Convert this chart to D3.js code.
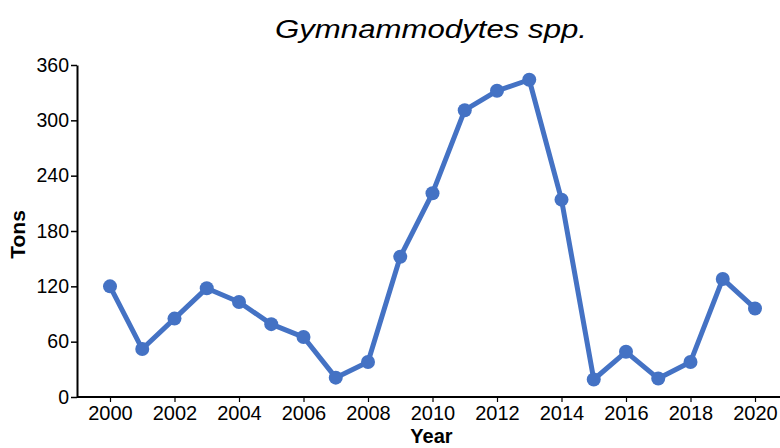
<!DOCTYPE html>
<html>
<head>
<meta charset="utf-8">
<script src="https://cdn.jsdelivr.net/npm/d3@7"></script>
<style>
  body { margin: 0; background: #fff; }
  svg { display: block; font-family: "Liberation Sans", Arial, sans-serif; }
</style>
</head>
<body>
<svg id="chart" width="780" height="448"></svg>
<script>
const years = [2000, 2001, 2002, 2003, 2004, 2005, 2006, 2007, 2008, 2009, 2010,
               2011, 2012, 2013, 2014, 2015, 2016, 2017, 2018, 2019, 2020];
const tons = [120, 52, 85, 118, 103, 79, 65, 21, 38, 152, 221,
              311, 332, 344, 214, 19, 49, 20, 38, 128, 96];
const xTicks = [2000, 2002, 2004, 2006, 2008, 2010, 2012, 2014, 2016, 2018, 2020];
const yTicks = [0, 60, 120, 180, 240, 300, 360];
const title = "Gymnammodytes spp.";
const xTitle = "Year";
const yTitle = "Tons";

const svg = d3.select("#chart");
const mLeft = 77, mRight = 780, mTop = 65, mBottom = 397;

const x = d3.scaleLinear().domain([2000, 2020]).range([110, 755]);
const y = d3.scaleLinear().domain([0, 360]).range([mBottom, mTop]);

// axes
const xAxis = svg.append("g").attr("transform", `translate(0,${mBottom})`)
  .call(d3.axisBottom(x).tickValues(xTicks).tickFormat(d3.format("d")).tickSize(5).tickSizeOuter(0));
xAxis.select(".domain").remove();
xAxis.append("line").attr("x1", mLeft).attr("x2", mRight).attr("y1", 0).attr("y2", 0)
  .attr("stroke", "#000").attr("stroke-width", 2);
xAxis.selectAll(".tick line").attr("stroke", "#000").attr("stroke-width", 1.2);
xAxis.selectAll(".tick text").attr("font-size", 20).attr("fill", "#000").attr("dy", null).attr("y", 23);

const yAxis = svg.append("g").attr("transform", `translate(${mLeft},0)`)
  .call(d3.axisLeft(y).tickValues(yTicks).tickSize(6).tickSizeOuter(0));
yAxis.select(".domain").attr("stroke", "#000").attr("stroke-width", 2);
yAxis.selectAll(".tick line").attr("stroke", "#000").attr("stroke-width", 1.5);
yAxis.selectAll(".tick text").attr("font-size", 19.5).attr("fill", "#000").attr("x", -8);

// line
const line = d3.line().x((d, i) => x(years[i])).y(d => y(d));
svg.append("path").datum(tons).attr("d", line)
  .attr("fill", "none").attr("stroke", "#4472C4").attr("stroke-width", 5)
  .attr("stroke-linejoin", "round");

svg.append("g").selectAll("circle").data(tons).join("circle")
  .attr("cx", (d, i) => x(years[i])).attr("cy", d => y(d)).attr("r", 7)
  .attr("fill", "#4472C4");

// titles
svg.append("text").attr("x", 431).attr("y", 38).attr("text-anchor", "middle")
  .attr("font-size", 25).attr("font-style", "italic").attr("fill", "#000")
  .attr("textLength", 312).attr("lengthAdjust", "spacingAndGlyphs").text(title);
svg.append("text").attr("x", 431.5).attr("y", 443).attr("text-anchor", "middle")
  .attr("font-size", 20).attr("font-weight", "bold").attr("fill", "#000").text(xTitle);
svg.append("text").attr("transform", "translate(25,234.5) rotate(-90)").attr("text-anchor", "middle")
  .attr("font-size", 21).attr("font-weight", "bold").attr("fill", "#000").text(yTitle);
</script>
</body>
</html>
